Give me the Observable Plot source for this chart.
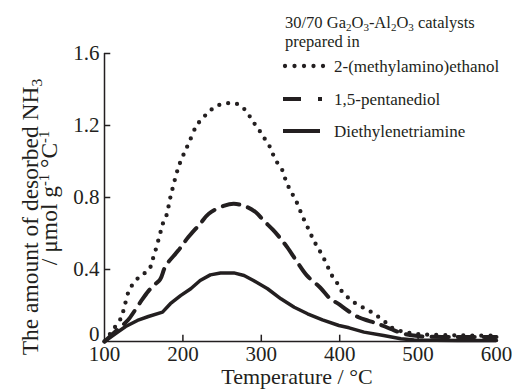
<!DOCTYPE html>
<html>
<head>
<meta charset="utf-8">
<script src="https://cdn.jsdelivr.net/npm/d3@7"></script>
<script src="https://cdn.jsdelivr.net/npm/@observablehq/plot@0.6"></script>
<style>
  html, body { margin: 0; padding: 0; background: #fff; }
  #chart { width: 512px; height: 389px; }
</style>
</head>
<body>
<div id="chart"></div>
<script>
// Series: 2-(methylamino)ethanol (dotted)
const tempMEA = [100,110,121,125,131,140,148,157,161,165,171,174,179,184,193,197,202,208,217,225,233,242,253,265,275,283,290,297,303,310,315,320,327,331,336,342,347,352,357,362,367,373,379,385,390,396,401,410,418,429,439,450,461,469,484,494,510,540,570,600];
const valMEA  = [0,0.06,0.13,0.185,0.28,0.34,0.37,0.40,0.45,0.505,0.60,0.65,0.70,0.80,0.95,1.0,1.05,1.107,1.196,1.24,1.274,1.307,1.32,1.325,1.305,1.265,1.218,1.176,1.135,1.089,1.039,0.996,0.95,0.898,0.848,0.80,0.756,0.70,0.654,0.607,0.56,0.515,0.468,0.413,0.367,0.33,0.289,0.246,0.218,0.19,0.167,0.135,0.098,0.07,0.052,0.044,0.038,0.035,0.033,0.032];

// Series: 1,5-pentanediol (dashed)
const tempPD = [100,115,128,132,146,156,165,171,178,194,207,222,233,253,265,280,293,303,315,324,333,346,358,375,388,398,410,424,437,448,465,481,500,550,600];
const valPD  = [0,0.06,0.11,0.13,0.22,0.28,0.32,0.345,0.42,0.505,0.58,0.654,0.71,0.755,0.765,0.75,0.718,0.672,0.62,0.575,0.524,0.44,0.367,0.30,0.237,0.21,0.172,0.135,0.115,0.10,0.07,0.044,0.03,0.025,0.025];

// Series: Diethylenetriamine (solid)
const tempDETA = [100,116,127,142,156,174,184,197,210,222,235,248,265,278,290,308,325,342,359,378,399,412,431,456,478,495,550,600];
const valDETA  = [0,0.05,0.083,0.117,0.139,0.163,0.21,0.255,0.293,0.339,0.37,0.381,0.381,0.367,0.339,0.293,0.237,0.19,0.154,0.12,0.089,0.076,0.052,0.033,0.015,0.008,0.005,0.005];

const xTicks = [100,200,300,400,500,600];
const yTicks = [0,0.4,0.8,1.2,1.6];
const yTickLabels = ["0","0.4","0.8","1.2","1.6"];
const seriesNames = ["2-(methylamino)ethanol","1,5-pentanediol","Diethylenetriamine"];

const toRows = (ts, vs) => ts.map((t, i) => ({t, v: vs[i]}));
const rowsMEA = toRows(tempMEA, valMEA);
const rowsPD = toRows(tempPD, valPD);
const rowsDETA = toRows(tempDETA, valDETA);

const ink = "#231f20";
const font = "'Liberation Serif', 'Times New Roman', serif";
const fmtY = d => yTickLabels[yTicks.indexOf(d)];

const chart = Plot.plot({
  width: 512,
  height: 389,
  marginLeft: 104,
  marginRight: 16,
  marginTop: 53,
  marginBottom: 48,
  style: {fontFamily: font, fontSize: "21px", color: ink, background: "#fff", overflow: "visible"},
  x: {domain: [100, 600]},
  y: {domain: [0, 1.6]},
  marks: [
    Plot.axisX({ticks: xTicks, tickSize: 0, tickPadding: 5, label: null, fontSize: 21}),
    Plot.axisY({ticks: yTicks.slice(1), tickSize: 0, tickPadding: 5, label: null, fontSize: 21, tickFormat: fmtY}),
    Plot.axisY({ticks: [0], tickSize: 0, tickPadding: 5, label: null, fontSize: 21, dy: -7, tickFormat: fmtY}),
    Plot.ruleX(xTicks.slice(1, -1), {y1: 0, y2: 0.035, stroke: ink, strokeWidth: 1.5}),
    Plot.ruleY(yTicks.slice(1), {x1: 100, x2: 108, stroke: ink, strokeWidth: 1.5}),
    Plot.ruleY([0], {stroke: ink, strokeWidth: 1.5}),
    Plot.ruleX([100], {stroke: ink, strokeWidth: 1.5}),
    Plot.line(rowsDETA, {x: "t", y: "v", stroke: ink, strokeWidth: 3.5, curve: "linear", strokeLinejoin: "round"}),
    Plot.line(rowsPD, {x: "t", y: "v", stroke: ink, strokeWidth: 4, curve: "catmull-rom", strokeDasharray: "17,9"}),
    Plot.line(rowsMEA, {x: "t", y: "v", stroke: ink, strokeWidth: 4.3, curve: "catmull-rom", strokeDasharray: "0,9", strokeLinecap: "round"})
  ]
});

document.getElementById("chart").appendChild(chart);

const svg = d3.select(chart);

// Axis title (x)
svg.append("text")
  .attr("x", 297).attr("y", 384)
  .attr("text-anchor", "middle")
  .attr("font-family", font).attr("font-size", 22)
  .attr("fill", ink)
  .text("Temperature / °C");

// Axis title (y), two lines
const yl1 = svg.append("text")
  .attr("transform", "translate(38,217) rotate(-90)")
  .attr("text-anchor", "middle")
  .attr("font-family", font).attr("font-size", 23.5)
  .attr("fill", ink);
yl1.append("tspan").text("The amount of desorbed NH");
yl1.append("tspan").attr("baseline-shift", "-25%").attr("font-size", 15.5).text("3");

const yl2 = svg.append("text")
  .attr("transform", "translate(57,198) rotate(-90)")
  .attr("text-anchor", "middle")
  .attr("font-family", font).attr("font-size", 23.5)
  .attr("fill", ink);
yl2.append("tspan").text("/ μmol g");
yl2.append("tspan").attr("baseline-shift", "super").attr("font-size", 14.5).text("-1");
yl2.append("tspan").text(" °C");
yl2.append("tspan").attr("baseline-shift", "super").attr("font-size", 14.5).text("-1");

// Legend
const lg = svg.append("g").attr("font-family", font).attr("font-size", 16.5).attr("fill", ink).attr("text-anchor", "start");
const t1 = lg.append("text").attr("x", 285).attr("y", 28);
t1.append("tspan").text("30/70 Ga");
t1.append("tspan").attr("baseline-shift", "-25%").attr("font-size", 11).text("2");
t1.append("tspan").text("O");
t1.append("tspan").attr("baseline-shift", "-25%").attr("font-size", 11).text("3");
t1.append("tspan").text("-Al");
t1.append("tspan").attr("baseline-shift", "-25%").attr("font-size", 11).text("2");
t1.append("tspan").text("O");
t1.append("tspan").attr("baseline-shift", "-25%").attr("font-size", 11).text("3");
t1.append("tspan").text(" catalysts");
lg.append("text").attr("x", 285).attr("y", 47).text("prepared in");

const rowY = [66, 99, 131];
const swatch = [
  {w: 4.3, dash: "0,9.5", cap: "round"},
  {w: 4, dash: "18,17,4,100", cap: "butt"},
  {w: 4, dash: null, cap: "butt"}
];
seriesNames.forEach((name, i) => {
  const l = lg.append("line")
    .attr("x1", i === 0 ? 285 : 283).attr("x2", i === 0 ? 325 : (i === 1 ? 322 : 320))
    .attr("y1", rowY[i]).attr("y2", rowY[i])
    .attr("stroke", ink).attr("stroke-width", swatch[i].w)
    .attr("stroke-linecap", swatch[i].cap);
  if (swatch[i].dash) l.attr("stroke-dasharray", swatch[i].dash);
  lg.append("text").attr("x", 334).attr("y", rowY[i] + 5.5).attr("font-size", 17).text(name);
});
</script>
</body>
</html>
